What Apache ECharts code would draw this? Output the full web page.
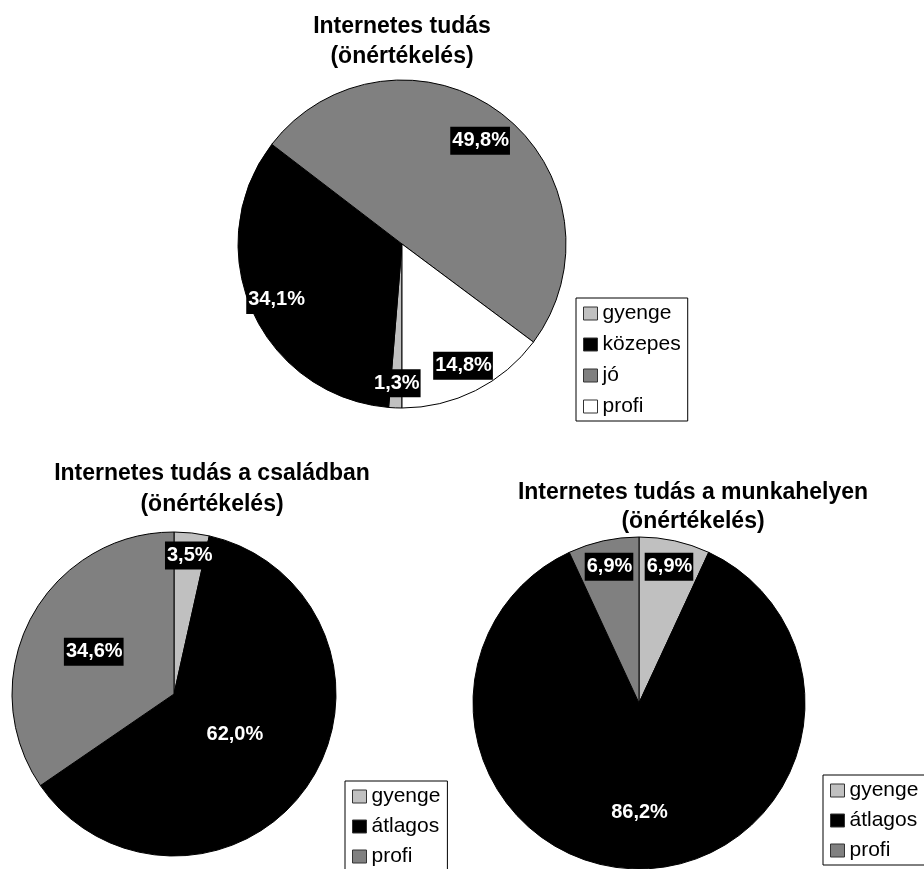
<!DOCTYPE html>
<html>
<head>
<meta charset="utf-8">
<title>Internetes tudás (önértékelés)</title>
<script src="https://cdn.jsdelivr.net/npm/echarts@6/dist/echarts.min.js"></script>
<style>
  html, body { margin: 0; padding: 0; background: #ffffff; }
  #chart { width: 924px; height: 869px; }
</style>
</head>
<body>
<div id="chart"></div>
<script>
// Self-assessed internet knowledge: overall, in the family, at the workplace (percent)
const topTitle = 'Internetes tudás\n(önértékelés)';
const topNames = ['gyenge', 'közepes', 'jó', 'profi'];
const topValues = [1.3, 34.1, 49.8, 14.8];

const familyTitle = 'Internetes tudás a családban\n(önértékelés)';
const familyNames = ['gyenge', 'átlagos', 'profi'];
const familyValues = [3.5, 62.0, 34.6];

const workTitle = 'Internetes tudás a munkahelyen\n(önértékelés)';
const workNames = ['gyenge', 'átlagos', 'profi'];
const workValues = [6.9, 86.2, 6.9];

// Slice fills
const topColors = ['#c0c0c0', '#000000', '#808080', '#ffffff'];
const familyColors = ['#c0c0c0', '#000000', '#808080'];
const workColors = ['#c0c0c0', '#000000', '#808080'];

// Pie geometry (pixels) and label distance from centre as a share of the radius
const pies = [
  { center: [402, 244], radius: 164, startAngle: -90, labelR: [0.85, 0.84, 0.79, 0.83] },
  { center: [174, 694], radius: 162, startAngle: 90, labelR: [0.86, 0.45, 0.56] },
  { center: [639, 703], radius: 166, startAngle: 90, labelR: [0.84, 0.66, 0.84] }
];

const FONT = '"Liberation Sans", Arial, Helvetica, sans-serif';

function fmt(v) {
  return v.toFixed(1).replace('.', ',') + '%';
}

function buildData(names, values, colors) {
  return names.map((n, i) => ({ name: n, value: values[i], itemStyle: { color: colors[i] } }));
}

const seriesValues = [topValues, familyValues, workValues];

// Place each label along the bisector of its slice
function labelLayout(params) {
  const pie = pies[params.seriesIndex];
  const vals = seriesValues[params.seriesIndex];
  const total = vals.reduce((a, b) => a + b, 0);
  let cum = 0;
  for (let i = 0; i < params.dataIndex; i++) cum += vals[i];
  const mid = (cum + vals[params.dataIndex] / 2) / total;
  const theta = (pie.startAngle - 360 * mid) * Math.PI / 180;
  const r = pie.radius * pie.labelR[params.dataIndex];
  return {
    x: pie.center[0] + r * Math.cos(theta),
    y: pie.center[1] - r * Math.sin(theta),
    align: 'center',
    verticalAlign: 'middle'
  };
}

function pieSeries(idx, data) {
  const pie = pies[idx];
  return {
    type: 'pie',
    center: pie.center,
    radius: pie.radius,
    startAngle: pie.startAngle,
    clockwise: true,
    avoidLabelOverlap: false,
    animation: false,
    emphasis: { scale: false },
    itemStyle: { borderColor: '#000000', borderWidth: 1 },
    label: {
      show: true,
      position: 'inside',
      formatter: p => fmt(p.value),
      color: '#ffffff',
      fontFamily: FONT,
      fontWeight: 'bold',
      fontSize: 20,
      lineHeight: 22,
      backgroundColor: '#000000',
      padding: [3, 1, 3, 2]
    },
    labelLine: { show: false },
    labelLayout: labelLayout,
    data: data
  };
}

function titleOf(text, x, y, lineHeight) {
  return {
    text: text,
    left: x,
    top: y,
    textAlign: 'center',
    padding: 0,
    textStyle: {
      fontFamily: FONT,
      fontWeight: 'bold',
      fontSize: 23,
      lineHeight: lineHeight,
      color: '#000000'
    }
  };
}

function legendOf(names, colors, x, y, gap) {
  return {
    orient: 'vertical',
    left: x,
    top: y,
    height: 200,
    itemWidth: 14,
    itemHeight: 13,
    itemGap: gap,
    padding: [5, 7, 4, 7],
    borderColor: '#000000',
    borderWidth: 1,
    backgroundColor: '#ffffff',
    icon: 'rect',
    selectedMode: false,
    itemStyle: { borderColor: '#333333', borderWidth: 1 },
    textStyle: { fontFamily: FONT, fontSize: 21, lineHeight: 21, color: '#000000' },
    data: names.map((n, i) => ({ name: n, itemStyle: { color: colors[i] } }))
  };
}

const chart = echarts.init(document.getElementById('chart'), null, { renderer: 'canvas' });
chart.setOption({
  backgroundColor: '#ffffff',
  animation: false,
  title: [
    titleOf(topTitle, 402, 12, 30),
    titleOf(familyTitle, 212, 458, 31),
    titleOf(workTitle, 693, 478, 29)
  ],
  legend: [
    legendOf(topNames, topColors, 576, 298, 10),
    legendOf(familyNames, familyColors, 345, 781, 9),
    legendOf(workNames, workColors, 823, 775, 9)
  ],
  series: [
    pieSeries(0, buildData(topNames, topValues, topColors)),
    pieSeries(1, buildData(familyNames, familyValues, familyColors)),
    pieSeries(2, buildData(workNames, workValues, workColors))
  ]
});
</script>
</body>
</html>
